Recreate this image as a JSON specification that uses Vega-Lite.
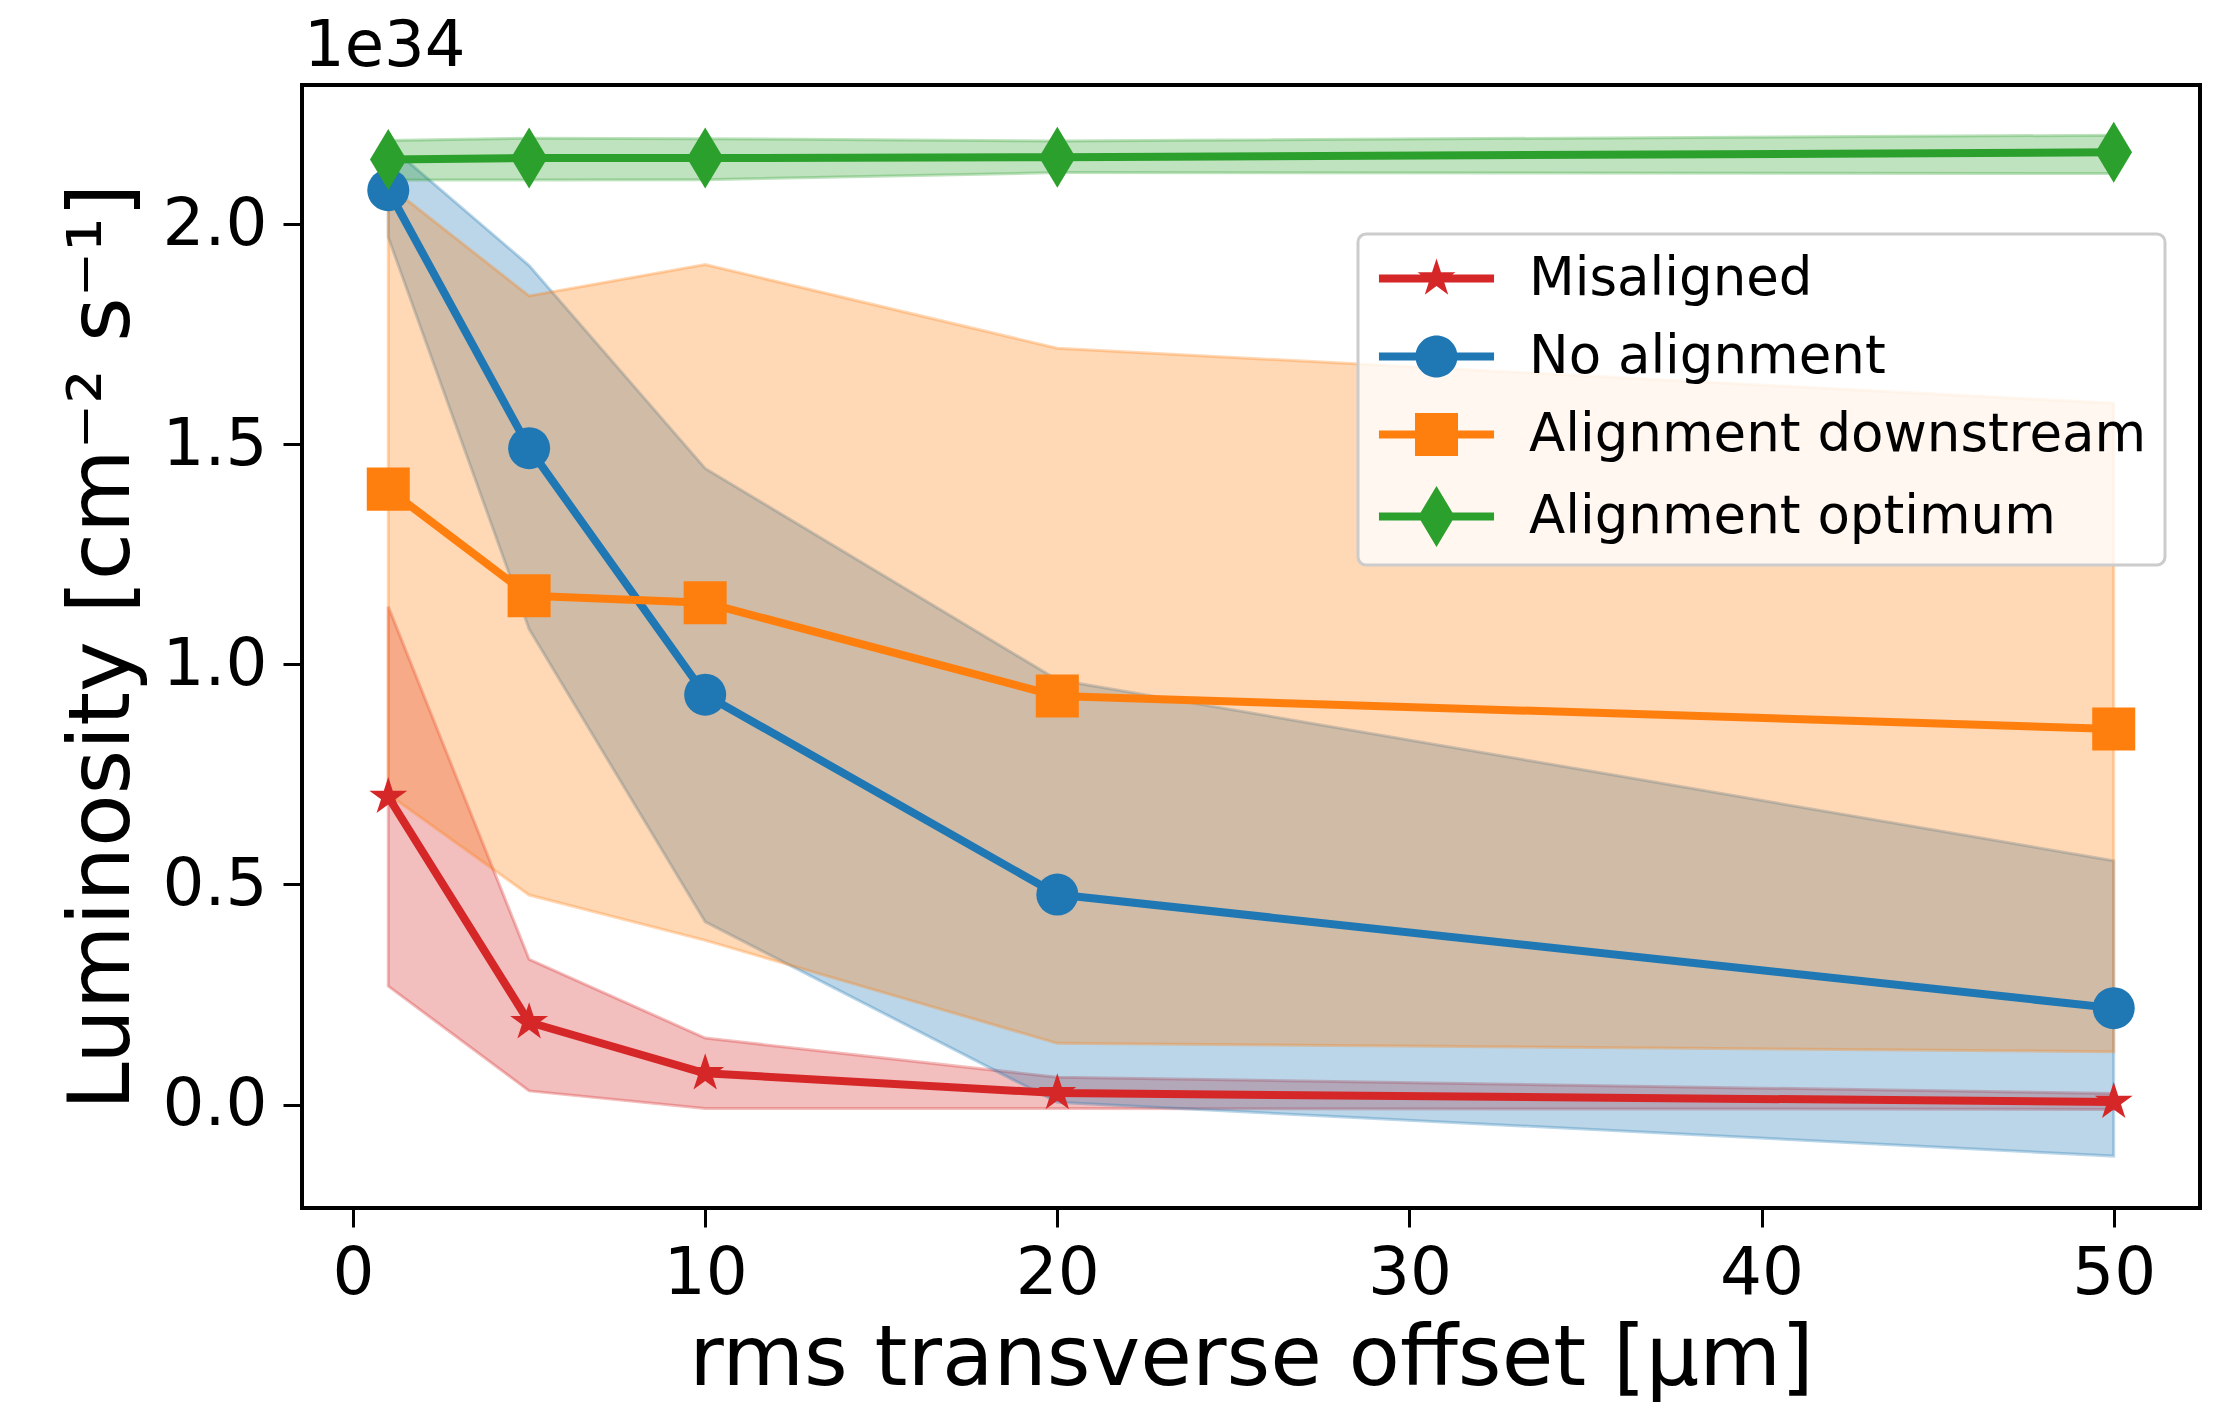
{
  "$schema": "https://vega.github.io/schema/vega-lite/v6.json",
  "width": 1898,
  "height": 1123,
  "autosize": {"type": "none"},
  "padding": {"left": 302, "top": 85, "right": 23, "bottom": 200},
  "background": "white",
  "title": {
    "text": "1e34",
    "anchor": "start",
    "frame": "group",
    "font": "DejaVu Sans",
    "fontSize": 64,
    "fontWeight": "normal",
    "color": "black",
    "offset": 6,
    "dx": 2
  },
  "data": {
    "values": [
      {"series": "Misaligned", "offset_um": 1, "mean": 0.699, "lo": 0.269, "hi": 1.131},
      {"series": "Misaligned", "offset_um": 5, "mean": 0.187, "lo": 0.031, "hi": 0.330},
      {"series": "Misaligned", "offset_um": 10, "mean": 0.071, "lo": -0.009, "hi": 0.151},
      {"series": "Misaligned", "offset_um": 20, "mean": 0.026, "lo": -0.009, "hi": 0.062},
      {"series": "Misaligned", "offset_um": 50, "mean": 0.006, "lo": -0.011, "hi": 0.025},
      {"series": "No alignment", "offset_um": 1, "mean": 2.077, "lo": 1.970, "hi": 2.180},
      {"series": "No alignment", "offset_um": 5, "mean": 1.491, "lo": 1.080, "hi": 1.906},
      {"series": "No alignment", "offset_um": 10, "mean": 0.931, "lo": 0.415, "hi": 1.445},
      {"series": "No alignment", "offset_um": 20, "mean": 0.477, "lo": 0.005, "hi": 0.965},
      {"series": "No alignment", "offset_um": 50, "mean": 0.219, "lo": -0.117, "hi": 0.554},
      {"series": "Alignment downstream", "offset_um": 1, "mean": 1.398, "lo": 0.705, "hi": 2.088},
      {"series": "Alignment downstream", "offset_um": 5, "mean": 1.156, "lo": 0.476, "hi": 1.837},
      {"series": "Alignment downstream", "offset_um": 10, "mean": 1.140, "lo": 0.373, "hi": 1.908},
      {"series": "Alignment downstream", "offset_um": 20, "mean": 0.928, "lo": 0.139, "hi": 1.718},
      {"series": "Alignment downstream", "offset_um": 50, "mean": 0.853, "lo": 0.120, "hi": 1.593},
      {"series": "Alignment optimum", "offset_um": 1, "mean": 2.147, "lo": 2.100, "hi": 2.190},
      {"series": "Alignment optimum", "offset_um": 5, "mean": 2.150, "lo": 2.100, "hi": 2.195},
      {"series": "Alignment optimum", "offset_um": 10, "mean": 2.150, "lo": 2.101, "hi": 2.194},
      {"series": "Alignment optimum", "offset_um": 20, "mean": 2.152, "lo": 2.117, "hi": 2.189},
      {"series": "Alignment optimum", "offset_um": 50, "mean": 2.163, "lo": 2.115, "hi": 2.202}
    ]
  },
  "encoding": {
    "x": {
      "field": "offset_um",
      "type": "quantitative",
      "scale": {"domain": [-1.45, 52.45], "nice": false, "zero": false},
      "axis": {
        "title": "rms transverse offset [μm]",
        "values": [0, 10, 20, 30, 40, 50],
        "format": "d",
        "grid": false,
        "domain": false,
        "tickSize": 19,
        "tickWidth": 3,
        "tickColor": "black",
        "labelFont": "DejaVu Sans",
        "labelFontSize": 66,
        "labelColor": "black",
        "labelPadding": 14,
        "titleFont": "DejaVu Sans",
        "titleFontSize": 84,
        "titleFontWeight": "normal",
        "titleColor": "black",
        "titlePadding": 12
      }
    }
  },
  "resolve": {"legend": {"color": "independent"}},
  "layer": [
    {
      "mark": {"type": "area", "fillOpacity": 0.3, "strokeOpacity": 0.3, "strokeWidth": 3},
      "encoding": {
        "y": {
          "field": "lo",
          "type": "quantitative",
          "scale": {"domain": [-0.235, 2.316], "nice": false, "zero": false},
          "title": "Luminosity [cm⁻² s⁻¹]"
        },
        "y2": {"field": "hi"},
        "color": {
          "field": "series",
          "type": "nominal",
          "scale": {
            "domain": ["Misaligned", "No alignment", "Alignment downstream", "Alignment optimum"],
            "range": ["#d62728", "#1f77b4", "#ff7f0e", "#2ca02c"]
          },
          "legend": null
        },
        "stroke": {
          "field": "series",
          "type": "nominal",
          "scale": {
            "domain": ["Misaligned", "No alignment", "Alignment downstream", "Alignment optimum"],
            "range": ["#d62728", "#1f77b4", "#ff7f0e", "#2ca02c"]
          },
          "legend": null
        }
      }
    },
    {
      "mark": {"type": "line", "strokeWidth": 8, "strokeJoin": "round"},
      "encoding": {
        "y": {
          "field": "mean",
          "type": "quantitative",
          "scale": {"domain": [-0.235, 2.316], "nice": false, "zero": false},
          "axis": {
            "title": "Luminosity [cm⁻² s⁻¹]",
            "values": [0, 0.5, 1, 1.5, 2],
            "format": ".1f",
            "grid": false,
            "domain": false,
            "tickSize": 19,
            "tickWidth": 3,
            "tickColor": "black",
            "labelFont": "DejaVu Sans",
            "labelFontSize": 66,
            "labelColor": "black",
            "labelPadding": 16,
            "titleFont": "DejaVu Sans",
            "titleFontSize": 86,
            "titleFontWeight": "normal",
            "titleColor": "black",
            "titlePadding": 16
          }
        },
        "color": {
          "field": "series",
          "type": "nominal",
          "scale": {
            "domain": ["Misaligned", "No alignment", "Alignment downstream", "Alignment optimum"],
            "range": ["#d62728", "#1f77b4", "#ff7f0e", "#2ca02c"]
          },
          "legend": {
            "orient": "none",
            "legendX": 1056,
            "legendY": 149,
            "title": null,
            "labelFont": "DejaVu Sans",
            "labelFontSize": 53,
            "labelColor": "black",
            "labelLimit": 0,
            "symbolSize": 1764,
            "symbolOffset": 34,
            "labelOffset": 66,
            "rowPadding": 24,
            "padding": 18,
            "strokeColor": "#cccccc",
            "fillColor": "rgba(255,255,255,0.8)",
            "cornerRadius": 8,
            "encode": {
              "legend": {"update": {"strokeWidth": {"value": 3}}},
              "symbols": {
                "update": {
                  "shape": {
                    "signal": "datum.value === 'Misaligned' ? 'M-2.74,-0.19H2.74V0.19H-2.74Z M0,-0.95L0.214,-0.294L0.903,-0.294L0.345,0.112L0.559,0.769L0,0.363L-0.559,0.769L-0.345,0.112L-0.903,-0.294L-0.214,-0.294Z' : datum.value === 'No alignment' ? 'M-2.74,-0.19H2.74V0.19H-2.74Z M-1,0A1,1,0,1,1,1,0A1,1,0,1,1,-1,0Z' : datum.value === 'Alignment downstream' ? 'M-2.74,-0.19H2.74V0.19H-2.74Z M-1.024,-1.024H1.024V1.024H-1.024Z' : 'M-2.74,-0.19H2.74V0.19H-2.74Z M0,-1.452L0.871,0L0,1.452L-0.871,0Z'"
                  },
                  "size": {"value": 1764},
                  "fill": {"scale": "color", "field": "value"},
                  "fillOpacity": {"value": 1},
                  "opacity": {"value": 1},
                  "stroke": {"value": "transparent"},
                  "strokeWidth": {"value": 0}
                }
              }
            }
          }
        }
      }
    },
    {
      "mark": {"type": "point", "filled": true, "opacity": 1, "strokeWidth": 0, "size": 1764},
      "encoding": {
        "y": {
          "field": "mean",
          "type": "quantitative",
          "scale": {"domain": [-0.235, 2.316], "nice": false, "zero": false}
        },
        "color": {
          "field": "series",
          "type": "nominal",
          "scale": {
            "domain": ["Misaligned", "No alignment", "Alignment downstream", "Alignment optimum"],
            "range": ["#d62728", "#1f77b4", "#ff7f0e", "#2ca02c"]
          },
          "legend": null
        },
        "shape": {
          "field": "series",
          "type": "nominal",
          "scale": {
            "domain": ["Misaligned", "No alignment", "Alignment downstream", "Alignment optimum"],
            "range": [
              "M0,-0.95L0.214,-0.294L0.903,-0.294L0.345,0.112L0.559,0.769L0,0.363L-0.559,0.769L-0.345,0.112L-0.903,-0.294L-0.214,-0.294Z",
              "circle",
              "M-1.024,-1.024H1.024V1.024H-1.024Z",
              "M0,-1.452L0.871,0L0,1.452L-0.871,0Z"
            ]
          },
          "legend": null
        }
      }
    }
  ],
  "config": {
    "view": {"stroke": "black", "strokeWidth": 4},
    "font": "DejaVu Sans"
  }
}
